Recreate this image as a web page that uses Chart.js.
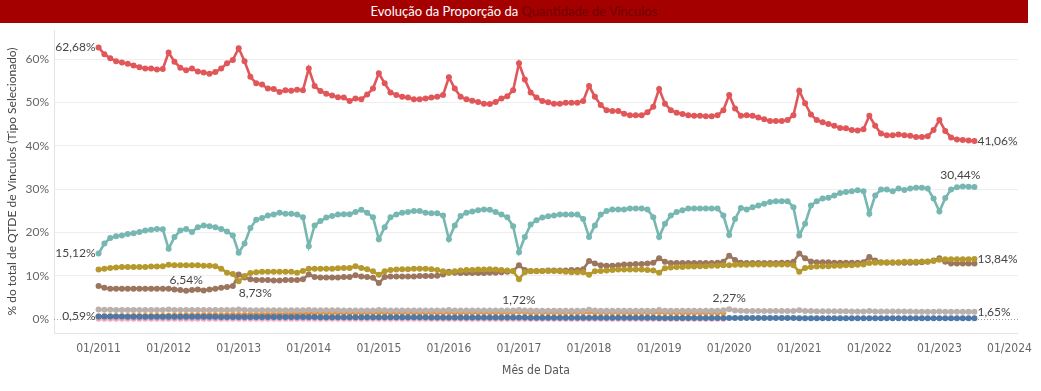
<!DOCTYPE html>
<html><head><meta charset="utf-8">
<script src="https://cdn.jsdelivr.net/npm/chart.js@4"></script>
<style>
html,body{margin:0;padding:0;background:#fff;}
#wrap{position:relative;width:1041px;height:391px;overflow:hidden;}
#title{position:absolute;left:0;top:0;width:1028px;height:23px;background:#A50000;color:#fff;font:13px Lato, sans-serif;text-align:center;line-height:23px;}
#title span{color:#720000;}
canvas{position:absolute;left:0;top:0;}
</style></head>
<body><div id="wrap"><canvas id="c" width="1041" height="391"></canvas><div id="title">Evolução da Proporção da <span>Quantidade de Vínculos</span></div></div>
<script>
// Months: index 0 = 01/2011 ... index 150 = 07/2023
const xTickMonths = [0,12,24,36,48,60,72,84,96,108,120,132,144,156];
const xTickLabels = ['01/2011','01/2012','01/2013','01/2014','01/2015','01/2016','01/2017','01/2018','01/2019','01/2020','01/2021','01/2022','01/2023','01/2024'];
const yTickValues = [0,10,20,30,40,50,60];

const serieVermelha = [
62.68,61.1,60.2,59.5,59.2,58.9,58.5,58.1,57.8,57.8,57.6,57.7,
61.5,59.4,58.0,57.4,57.8,57.1,56.9,56.6,57.0,57.8,59.0,59.8,
62.5,59.5,55.9,54.4,54.1,53.2,53.1,52.4,52.8,52.7,52.9,52.8,
57.8,53.8,52.6,52.0,51.6,51.2,51.1,50.3,50.9,50.7,51.8,53.2,
56.7,54.4,52.3,51.7,51.3,51.1,50.7,50.7,50.9,51.1,51.3,51.7,
55.8,53.2,51.3,50.7,50.4,50.1,49.7,49.6,50.1,50.9,51.4,52.8,
59.0,55.3,52.3,51.1,50.3,50.0,49.7,49.7,49.9,49.9,49.9,50.3,
53.8,51.3,49.4,48.2,48.0,48.0,47.4,47.0,47.0,47.0,47.7,49.0,
53.1,49.7,48.2,47.6,47.3,47.0,46.9,46.9,46.8,46.8,47.0,48.2,
51.7,48.6,46.9,47.0,46.9,46.5,46.1,45.7,45.7,45.7,45.9,47.0,
52.7,49.8,47.2,45.9,45.4,45.0,44.6,44.1,44.0,43.6,43.5,43.8,
46.9,44.6,42.8,42.4,42.4,42.6,42.4,42.3,42.0,42.0,42.2,43.6,
45.9,43.4,41.9,41.4,41.3,41.2,41.06];

const serieTurquesa = [
15.12,17.4,18.7,19.1,19.3,19.6,19.8,20.1,20.4,20.6,20.8,20.7,
16.2,18.9,20.4,20.8,20.1,21.2,21.6,21.4,21.2,20.8,20.2,19.3,
15.3,17.4,21.0,22.9,23.3,23.9,24.1,24.5,24.3,24.3,24.1,23.5,
16.8,21.6,22.6,23.4,23.8,24.1,24.2,24.2,24.7,25.2,24.5,23.5,
18.4,21.2,23.5,24.1,24.5,24.7,24.9,24.9,24.5,24.4,24.4,23.9,
18.4,21.6,23.8,24.5,24.8,25.1,25.3,25.2,24.7,24.1,23.5,21.4,
15.4,18.9,21.8,22.8,23.4,23.7,23.9,24.1,24.1,24.1,24.1,23.1,
18.9,21.6,24.1,24.9,25.3,25.3,25.3,25.5,25.5,25.5,25.3,23.5,
18.9,22.0,23.9,24.7,25.1,25.5,25.5,25.5,25.5,25.5,25.5,23.9,
19.4,23.1,25.6,25.3,25.8,26.2,26.6,27.0,27.2,27.2,27.2,25.8,
19.3,22.0,26.2,27.2,27.8,28.0,28.5,29.1,29.3,29.5,29.7,29.5,
24.3,28.5,29.9,29.9,29.5,30.1,29.8,30.1,30.3,30.3,30.1,27.8,
24.8,27.9,29.9,30.4,30.6,30.5,30.44];

const serieOliva = [
11.4,11.6,11.8,11.9,12.0,12.0,12.0,12.0,12.0,12.1,12.1,12.2,
12.5,12.4,12.4,12.4,12.4,12.4,12.3,12.3,12.2,11.6,10.7,10.4,
8.73,9.9,10.6,10.8,10.9,10.9,10.9,10.9,10.9,10.9,10.7,11.1,
11.6,11.6,11.6,11.6,11.6,11.7,11.8,11.8,12.2,11.8,11.5,11.0,
10.2,11.0,11.3,11.4,11.5,11.5,11.6,11.6,11.6,11.5,11.3,11.0,
10.6,11.0,11.2,11.3,11.3,11.4,11.4,11.5,11.4,11.3,11.2,11.0,
9.2,10.8,11.0,11.0,11.1,11.1,11.1,11.0,10.9,10.8,10.8,10.8,
10.2,11.0,11.1,11.2,11.3,11.4,11.4,11.4,11.4,11.4,11.3,11.2,
10.7,11.7,11.9,12.0,12.0,12.1,12.1,12.2,12.2,12.3,12.3,12.4,
12.4,12.5,12.5,12.5,12.6,12.6,12.6,12.6,12.6,12.6,12.6,12.4,
10.9,11.8,12.0,12.1,12.2,12.2,12.3,12.3,12.4,12.4,12.5,12.6,
12.9,13.0,13.0,13.1,13.1,13.1,13.2,13.2,13.2,13.3,13.3,13.4,
13.7,13.8,13.8,13.8,13.8,13.8,13.84];

const serieMarrom = [
7.6,7.2,7.0,7.0,7.0,7.0,7.0,7.0,7.0,7.0,7.0,7.0,
7.0,6.8,6.7,6.54,6.7,6.8,6.6,6.8,7.0,7.2,7.4,7.6,
10.3,9.6,9.2,9.0,9.0,9.0,8.9,8.9,9.0,9.0,9.0,9.2,
10.3,9.7,9.6,9.6,9.6,9.6,9.7,9.7,10.1,9.8,9.7,9.5,
8.3,9.7,9.8,9.8,9.8,9.8,9.8,9.9,9.9,9.9,10.0,10.3,
10.9,10.7,10.6,10.6,10.6,10.6,10.6,10.7,10.7,10.8,10.9,11.1,
12.4,11.3,11.1,11.1,11.1,11.2,11.2,11.2,11.2,11.3,11.3,11.5,
13.4,12.8,12.4,12.3,12.3,12.4,12.6,12.6,12.7,12.7,12.8,13.0,
14.0,13.2,12.9,12.9,12.9,12.9,12.9,12.9,12.9,12.9,13.0,13.2,
14.6,13.6,13.0,12.9,12.9,12.9,12.9,12.9,12.9,13.0,13.0,13.2,
15.1,14.0,13.3,13.1,13.1,13.1,13.0,13.0,13.0,13.0,13.0,13.1,
14.3,13.5,13.1,13.0,13.0,13.0,13.0,13.0,13.0,13.1,13.2,13.5,
14.0,13.2,12.8,12.8,12.8,12.8,12.8];

const serieCinza = [
2.20,2.15,2.12,2.10,2.10,2.10,2.10,2.08,2.08,2.08,2.08,2.08,
2.20,2.10,2.08,2.08,2.06,2.06,2.06,2.05,2.05,2.05,2.05,2.05,
2.22,2.08,2.04,2.02,2.02,2.02,2.02,2.00,2.00,2.00,2.00,2.00,
2.10,2.02,2.00,2.00,2.00,2.00,1.98,1.98,1.98,1.98,1.98,1.98,
2.08,2.00,1.98,1.98,1.97,1.97,1.97,1.96,1.96,1.96,1.96,1.96,
2.08,1.98,1.96,1.95,1.95,1.95,1.95,1.95,1.94,1.94,1.94,1.94,
2.10,1.97,1.94,1.93,1.93,1.93,1.93,1.92,1.92,1.92,1.92,1.92,
2.12,1.95,1.92,1.92,1.91,1.91,1.91,1.90,1.90,1.90,1.90,1.90,
2.05,1.92,1.90,1.90,1.89,1.89,1.89,1.88,1.88,1.88,1.88,2.00,
2.27,1.98,1.88,1.86,1.86,1.86,1.85,1.85,1.85,1.85,1.85,1.85,
2.02,1.86,1.82,1.80,1.80,1.79,1.78,1.78,1.77,1.76,1.76,1.76,
1.85,1.76,1.74,1.73,1.72,1.72,1.71,1.71,1.70,1.70,1.70,1.70,
1.76,1.69,1.67,1.66,1.66,1.65,1.65];

const serieLaranja = [
0.60,0.62,0.63,0.64,0.65,0.66,0.67,0.68,0.70,0.70,0.72,0.72,
0.75,0.76,0.78,0.80,0.80,0.82,0.84,0.85,0.86,0.88,0.90,0.90,
0.92,0.95,0.98,1.00,1.02,1.05,1.08,1.10,1.12,1.15,1.20,1.25,
1.40,1.42,1.43,1.44,1.45,1.45,1.46,1.46,1.47,1.47,1.48,1.48,
1.55,1.49,1.49,1.50,1.50,1.50,1.50,1.51,1.51,1.51,1.52,1.52,
1.62,1.53,1.53,1.53,1.54,1.54,1.54,1.55,1.55,1.55,1.56,1.56,
1.72,1.58,1.56,1.56,1.56,1.56,1.56,1.56,1.56,1.56,1.56,1.56,
1.65,1.56,1.55,1.55,1.55,1.55,1.55,1.55,1.55,1.55,1.55,1.55,
1.62,1.54,1.53,1.53,1.53,1.53,1.52,1.52,1.52,1.52,1.52,1.50];

const serieAzul = [
0.59,0.57,0.56,0.55,0.55,0.54,0.54,0.54,0.53,0.53,0.53,0.53,
0.52,0.52,0.51,0.51,0.51,0.50,0.50,0.50,0.50,0.49,0.49,0.49,
0.48,0.48,0.47,0.47,0.47,0.46,0.46,0.46,0.45,0.45,0.45,0.45,
0.44,0.44,0.43,0.43,0.43,0.42,0.42,0.42,0.42,0.41,0.41,0.41,
0.40,0.40,0.39,0.39,0.39,0.38,0.38,0.38,0.38,0.37,0.37,0.37,
0.36,0.36,0.35,0.35,0.35,0.34,0.34,0.34,0.34,0.33,0.33,0.33,
0.32,0.32,0.31,0.31,0.31,0.31,0.30,0.30,0.30,0.30,0.30,0.30,
0.29,0.29,0.28,0.28,0.28,0.28,0.28,0.27,0.27,0.27,0.27,0.27,
0.26,0.26,0.25,0.25,0.25,0.25,0.25,0.24,0.24,0.24,0.24,0.24,
0.23,0.23,0.22,0.22,0.22,0.22,0.22,0.21,0.21,0.21,0.21,0.21,
0.20,0.20,0.19,0.19,0.19,0.19,0.19,0.18,0.18,0.18,0.18,0.18,
0.18,0.17,0.17,0.17,0.17,0.17,0.16,0.16,0.16,0.16,0.16,0.16,
0.16,0.16,0.15,0.15,0.15,0.15,0.15];

const serieRosa = [
0.08,0.08,0.08,0.08,0.08,0.07,0.07,0.07,0.07,0.07,0.07,0.07,
0.07,0.07,0.07,0.06,0.06,0.06,0.06,0.06,0.06,0.06,0.06,0.06,
0.06,0.06,0.06,0.06,0.05,0.05,0.05,0.05,0.05,0.05,0.05,0.05,
0.05,0.05,0.05,0.05,0.05,0.05,0.05,0.05,0.05,0.05,0.05,0.05,
0.05,0.05,0.05,0.05,0.05,0.05,0.04,0.04,0.04,0.04,0.04,0.04,
0.04,0.04,0.04,0.04,0.04,0.04,0.04,0.04,0.04,0.04,0.04,0.04,
0.04,0.04,0.04,0.04,0.04,0.04,0.04,0.04,0.03,0.03,0.03,0.03,
0.03,0.03,0.03,0.03,0.03,0.03,0.03,0.03,0.03,0.03,0.03,0.03,
0.03,0.03,0.03,0.03,0.03,0.03,0.03,0.03,0.03,0.03,0.03,0.03];

// Series drawn top-most first
const series = [
  {values: serieVermelha, color: '#E15759'},
  {values: serieTurquesa, color: '#76B7B2'},
  {values: serieOliva,    color: '#B6992D'},
  {values: serieMarrom,   color: '#9C755F'},
  {values: serieAzul,     color: '#4E79A7'},
  {values: serieCinza,    color: '#BAB0AC'},
  {values: serieLaranja,  color: '#F28E2B'},
  {values: serieRosa,     color: '#F3A6C0'}
];

// Marks to annotate: dataset index, point index, placement
const annotations = [
  {ds:0, i:0,   pos:'left'},
  {ds:0, i:150, pos:'right'},
  {ds:1, i:0,   pos:'left'},
  {ds:1, i:150, pos:'aboveLeft'},
  {ds:2, i:24,  pos:'belowRight'},
  {ds:2, i:150, pos:'right'},
  {ds:3, i:15,  pos:'above'},
  {ds:4, i:0,   pos:'left'},
  {ds:5, i:108, pos:'above'},
  {ds:5, i:150, pos:'right'},
  {ds:6, i:72,  pos:'above'}
];

const fmt = v => v.toFixed(2).replace('.', ',') + '%';

const labelPlugin = {
  id: 'labels',
  beforeDatasetsDraw(chart) {
    const {ctx, chartArea, scales} = chart;
    const y0 = scales.y.getPixelForValue(0);
    ctx.save();
    ctx.strokeStyle = '#9a9a9a';
    ctx.lineWidth = 1;
    ctx.setLineDash([1, 2]);
    ctx.beginPath();
    ctx.moveTo(chartArea.left, Math.round(y0) + 0.5);
    ctx.lineTo(chartArea.right, Math.round(y0) + 0.5);
    ctx.stroke();
    ctx.restore();
  },
  afterDatasetsDraw(chart) {
    const {ctx, scales} = chart;
    ctx.save();
    ctx.font = '12px Lato, sans-serif';
    ctx.fillStyle = '#444';
    ctx.textBaseline = 'middle';
    annotations.forEach(a => {
      const v = series[a.ds].values[a.i];
      const px = scales.x.getPixelForValue(a.i);
      const py = scales.y.getPixelForValue(v);
      const t = fmt(v);
      let x = px, y = py;
      if (a.pos === 'left') { ctx.textAlign = 'right'; x = px - 3; }
      else if (a.pos === 'right') { ctx.textAlign = 'left'; x = px + 3; }
      else if (a.pos === 'above') { ctx.textAlign = 'center'; y = py - 11; }
      else if (a.pos === 'aboveLeft') { ctx.textAlign = 'right'; x = px + 6; y = py - 12; }
      else if (a.pos === 'belowRight') { ctx.textAlign = 'left'; x = px; y = py + 12; }
      ctx.fillText(t, x, y);
    });
    ctx.restore();
  }
};

const datasets = series.map(s => ({
  data: s.values.map((v, i) => ({x: i, y: v})),
  borderColor: s.color,
  backgroundColor: s.color,
  borderWidth: 2.6,
  pointRadius: 3,
  pointBorderWidth: 0,
  pointHoverRadius: 3,
  tension: 0,
  fill: false
}));

new Chart(document.getElementById('c'), {
  type: 'line',
  data: {datasets},
  plugins: [labelPlugin],
  options: {
    responsive: false,
    animation: false,
    devicePixelRatio: 1,
    layout: {padding: {top: 30, right: 13, left: 0, bottom: 0}},
    plugins: {legend: {display: false}, tooltip: {enabled: false}, title: {display: false}},
    scales: {
      x: {
        type: 'linear', bounds: 'data', min: -7.63, max: 157.45,
        afterBuildTicks: s => { s.ticks = xTickMonths.map(v => ({value: v})); },
        afterFit: s => { s.height = 58; },
        ticks: {
          autoSkip: false, maxRotation: 0, padding: 9,
          color: '#666',
          font: {family: "'Liberation Sans Narrow', 'DejaVu Sans Condensed', sans-serif", size: 12},
          callback: v => xTickLabels[xTickMonths.indexOf(v)]
        },
        grid: {display: false, drawTicks: false},
        border: {display: true, color: '#e4e4e4', width: 1},
        title: {
          display: true, text: 'Mês de Data', color: '#555',
          font: {family: "'Liberation Sans Narrow', 'DejaVu Sans Condensed', sans-serif", size: 12},
          padding: {top: 0, bottom: 13}
        }
      },
      y: {
        type: 'linear', bounds: 'data', min: -3.23, max: 66.7,
        afterBuildTicks: s => { s.ticks = yTickValues.map(v => ({value: v})); },
        afterFit: s => { s.width = 54; },
        ticks: {
          padding: 5, color: '#666',
          font: {family: 'Lato, sans-serif', size: 12},
          callback: v => v + '%'
        },
        grid: {
          drawTicks: false,
          color: c => (c.tick && c.tick.value === 0) ? 'rgba(0,0,0,0)' : '#eeeeee'
        },
        border: {display: true, color: '#e4e4e4', width: 1},
        title: {
          display: true, text: '% do total de QTDE de Vínculos (Tipo Selecionado)', color: '#444',
          font: {family: 'Lato, sans-serif', size: 12},
          padding: {top: 5, bottom: 0}
        }
      }
    }
  }
});
</script>
</body></html>
